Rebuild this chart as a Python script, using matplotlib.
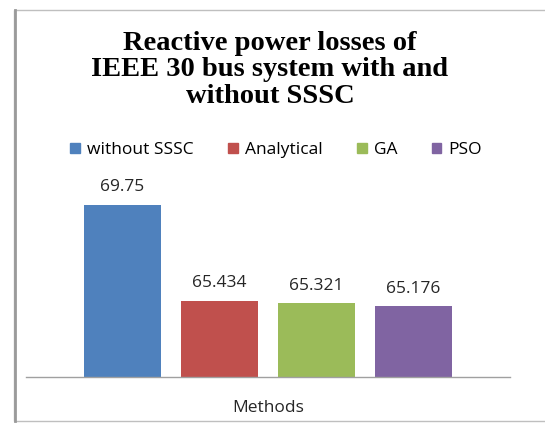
import matplotlib
matplotlib.use("Agg")
import matplotlib.pyplot as plt
from matplotlib.patches import Rectangle

# Reactive power losses (MVAr) for each method
methods = ["without SSSC", "Analytical", "GA", "PSO"]
losses = [69.75, 65.434, 65.321, 65.176]
value_labels = ["69.75", "65.434", "65.321", "65.176"]
colors = ["#4F81BD", "#C0504D", "#9BBB59", "#8064A2"]

W, H = 545, 423
fig = plt.figure(figsize=(W / 100, H / 100), dpi=100)
fig.patch.set_facecolor("white")

# chart frame
fig.add_artist(Rectangle((14 / W, 1 - 421 / H), (W + 5 - 14) / W, (421 - 10) / H,
                         transform=fig.transFigure, fill=False,
                         edgecolor="#BFBFBF", linewidth=1.0))
fig.add_artist(plt.Line2D([15 / W, 15 / W], [1 - 421 / H, 1 - 10 / H],
                          transform=fig.transFigure, color="#9A9A9A", linewidth=2.0))

ax_left, ax_right = 26 / W, 510 / W
ax_bottom, ax_top = 1 - 377 / H, 1 - 190 / H
ax = fig.add_axes([ax_left, ax_bottom, ax_right - ax_left, ax_top - ax_bottom])
ax.set_facecolor("none")

x = list(range(len(methods)))
bars = ax.bar(x, losses, width=0.79, color=colors, label=methods)
ax.set_ylim(62, 70.42)
ax.set_xlim(-0.995, 3.995)

label_font = {"family": "Open Sans", "size": 12.5}
for xi, v, txt in zip(x, losses, value_labels):
    ax.annotate(txt, (xi, v), xytext=(0, 7), textcoords="offset points",
                ha="center", va="bottom", color="#262626", **label_font)

for s in ["top", "right", "left"]:
    ax.spines[s].set_visible(False)
ax.spines["bottom"].set_color("#A0A0A0")
ax.spines["bottom"].set_linewidth(1.0)
ax.set_xticks([])
ax.set_yticks([])

fig.text(268 / W, 1 - 408 / H, "Methods", ha="center", va="center",
         color="#262626", **label_font)

fig.text(270 / W, 1 - 70 / H,
         "Reactive power losses of\nIEEE 30 bus system with and\nwithout SSSC",
         ha="center", va="center", fontsize=20.5, fontweight="bold",
         family="Liberation Serif", linespacing=1.08, color="black")

handles = [Rectangle((0, 0), 1, 1, color=c) for c in colors]
fig.legend(handles, methods, loc="center", bbox_to_anchor=(276 / W, 1 - 150 / H),
           ncol=4, frameon=False, handlelength=0.55, handleheight=0.55,
           handletextpad=0.4, columnspacing=2.0,
           prop={"family": "Open Sans", "size": 12.5})

fig.savefig("out.png", dpi=100, facecolor="white")
